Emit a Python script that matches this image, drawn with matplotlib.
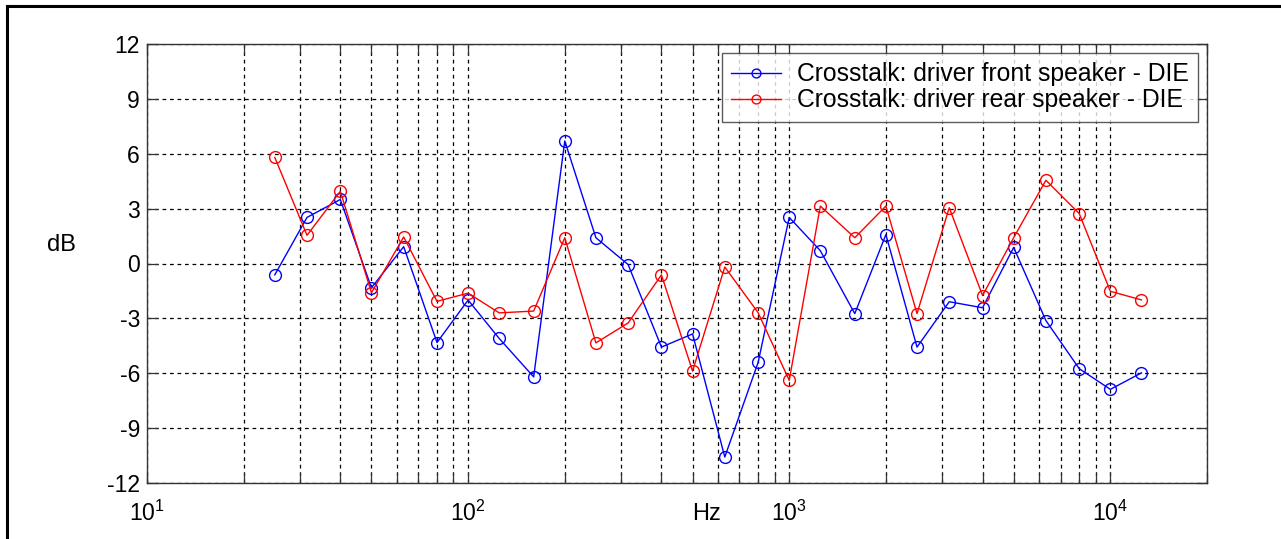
import matplotlib
matplotlib.use("Agg")
import matplotlib.pyplot as plt
from matplotlib.lines import Line2D
from matplotlib.ticker import LogLocator, FixedLocator, NullFormatter

plt.rcParams["font.family"] = ["Liberation Sans", "DejaVu Sans"]
plt.rcParams["mathtext.fontset"] = "custom"
plt.rcParams["mathtext.rm"] = "Liberation Sans"
plt.rcParams["mathtext.it"] = "Liberation Sans:italic"
plt.rcParams["axes.unicode_minus"] = False

# 1/3-octave band centre frequencies
freq_hz = [25, 31.5, 40, 50, 63, 80, 100, 125, 160, 200, 250, 315, 400, 500,
           630, 800, 1000, 1250, 1600, 2000, 2500, 3150, 4000, 5000, 6300,
           8000, 10000, 12500]

front_db = [-0.62, 2.52, 3.5, -1.33, 0.92, -4.32, -2.0, -4.1, -6.2, 6.7, 1.41,
            -0.06, -4.57, -3.85, -10.58, -5.41, 2.52, 0.70, -2.74, 1.58, -4.57,
            -2.09, -2.42, 0.88, -3.12, -5.75, -6.88, -5.98]

rear_db = [5.8, 1.54, 3.95, -1.6, 1.45, -2.07, -1.62, -2.7, -2.6, 1.41, -4.34,
           -3.25, -0.62, -5.88, -0.19, -2.69, -6.39, 3.14, 1.41, 3.14, -2.74,
           3.05, -1.75, 1.41, 4.55, 2.73, -1.52, -1.99]

label_front = "Crosstalk: driver front speaker - DIE"
label_rear = "Crosstalk: driver rear speaker - DIE"
y_ticks = [-12, -9, -6, -3, 0, 3, 6, 9, 12]

W, H = 1281, 539
fig = plt.figure(figsize=(W / 100, H / 100), dpi=100)
ax = fig.add_axes([147 / W, 1 - 483 / H, (1207 - 147) / W, (483 - 44) / H])

ax.plot(freq_hz, front_db, color="#0000ff", lw=1.0, marker="o", ms=8.5,
        mfc="none", mec="#0000ff", mew=1.0, label=label_front)
ax.plot(freq_hz, rear_db, color="#ff0000", lw=1.0, marker="o", ms=8.5,
        mfc="none", mec="#ff0000", mew=1.0, label=label_rear)

ax.set_xscale("log")
ax.set_xlim(10, 20000)
ax.set_ylim(-12, 12)
ax.yaxis.set_major_locator(FixedLocator(y_ticks))
ax.xaxis.set_major_locator(LogLocator(base=10, numticks=10))
ax.xaxis.set_minor_locator(LogLocator(base=10, subs=range(2, 10), numticks=20))
ax.xaxis.set_minor_formatter(NullFormatter())

grid_style = dict(color="black", linestyle=(0, (3, 3)), linewidth=0.9)
ax.grid(True, which="major", axis="both", **grid_style)
ax.grid(True, which="minor", axis="x", **grid_style)

ax.tick_params(which="both", direction="in", top=True, right=True,
               labelsize=16.5, width=0.9, color="#333333")
ax.tick_params(which="major", length=8, pad=5)
ax.tick_params(which="minor", length=7)
ax.tick_params(axis="x", which="major", pad=13)
for sp in ax.spines.values():
    sp.set_linewidth(1.0)
    sp.set_color("#333333")

# axis titles placed in figure pixels
fig.text(707 / W, 1 - 514 / H, "Hz", fontsize=17, ha="center", va="center")
fig.text(61 / W, 1 - 245 / H, "dB", fontsize=17, ha="center", va="center")

leg = ax.legend(loc="upper right", bbox_to_anchor=(1198 / W, 1 - 53 / H),
                bbox_transform=fig.transFigure, fontsize=17.8, frameon=True,
                fancybox=False, borderpad=0.38, handlelength=2.0,
                handletextpad=0.65, labelspacing=0.08, borderaxespad=0,
                markerscale=0.75)
leg.get_frame().set_edgecolor("#333333")
leg.get_frame().set_linewidth(1.0)

# outer frame (top and left edges)
fig.add_artist(Line2D([7 / W, 1.0], [1 - 6 / H, 1 - 6 / H],
                      transform=fig.transFigure, color="black", lw=2.2))
fig.add_artist(Line2D([7 / W, 7 / W], [0.0, 1 - 6 / H],
                      transform=fig.transFigure, color="black", lw=2.2))

fig.savefig("out.png", dpi=100)
